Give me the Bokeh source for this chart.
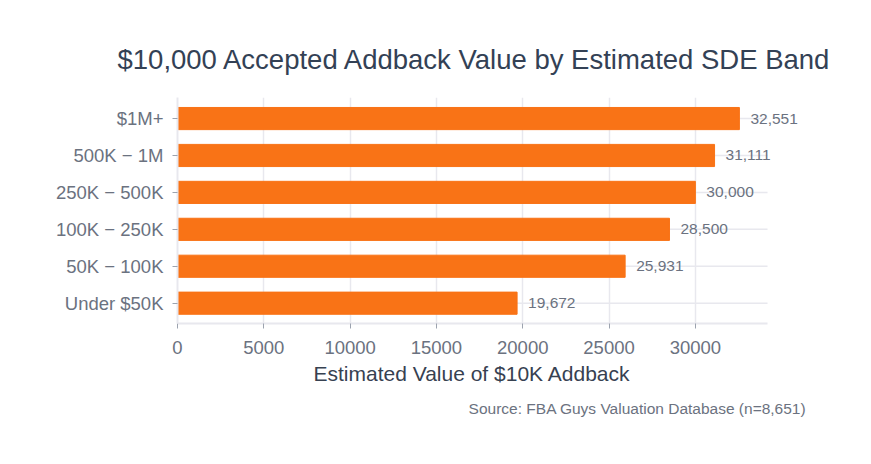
from bokeh.plotting import figure
from bokeh.models import ColumnDataSource, Range1d, FixedTicker, Title, Label
from bokeh.embed import file_html
from bokeh.resources import INLINE

# SDE bands, bottom to top
bands = ["Under $50K", "50K \u2212 100K", "100K \u2212 250K", "250K \u2212 500K", "500K \u2212 1M", "$1M+"]
values = [19672, 25931, 28500, 30000, 31111, 32551]
x_ticks = [0, 5000, 10000, 15000, 20000, 25000, 30000]

FONT = "Liberation Sans"
ORANGE = "#f97316"
GRID = "#e8e8ee"
TICK_TXT = "#6b7280"

x_max = max(values) * 1.05
# frame is widened past the axis end so the value labels are not clipped
x_end = x_max * 643 / 590

source = ColumnDataSource(dict(y=list(range(len(bands))), value=values))
grid_src = ColumnDataSource(dict(y=list(range(len(bands))),
                                 x0=[0] * len(bands), x1=[x_max] * len(bands)))

p = figure(
    width=855, height=448,
    x_range=Range1d(0, x_end),
    y_range=Range1d(-0.55, len(bands) - 1 + 0.57),
    output_backend="svg", toolbar_location=None,
    min_border_left=177, min_border_right=35,
    min_border_top=97, min_border_bottom=125,
)
p.outline_line_color = None

p.title.text = "$10,000 Accepted Addback Value by Estimated SDE Band"
p.title.align = "left"
p.title.offset = -60
p.title.text_font = FONT
p.title.text_font_size = "27.5px"
p.title.text_font_style = "normal"
p.title.text_color = "#334155"
p.title.standoff = 45

p.segment(x0="x0", y0="y", x1="x1", y1="y", source=grid_src,
          line_color=GRID, line_width=1.5, level="underlay")
p.hbar(y="y", right="value", height=0.6, color=ORANGE, source=source)

for i, v in enumerate(values):
    p.add_layout(Label(x=v, y=i, text=f"{v:,}", x_offset=11, text_baseline="middle",
                       text_font=FONT, text_font_size="15.5px", text_color=TICK_TXT))

p.yaxis.ticker = FixedTicker(ticks=list(range(len(bands))))
p.yaxis.major_label_overrides = {i: b for i, b in enumerate(bands)}
p.xaxis.ticker = FixedTicker(ticks=x_ticks)
p.xaxis.bounds = (0, x_max)

for ax in (p.xaxis, p.yaxis):
    ax.axis_line_color = GRID
    ax.axis_line_width = 2
    ax.major_tick_line_color = "#9ca3af"
    ax.major_tick_out = 5
    ax.major_tick_in = 0
    ax.minor_tick_line_color = None
    ax.major_label_text_font = FONT
    ax.major_label_text_font_size = "18.5px"
    ax.major_label_text_color = TICK_TXT
p.yaxis.major_label_standoff = 9
p.xaxis.major_label_standoff = 12

p.xgrid.ticker = FixedTicker(ticks=x_ticks)
p.xgrid.grid_line_color = GRID
p.xgrid.grid_line_width = 1.5
p.ygrid.grid_line_color = None

# x axis title, centred under the axis span rather than the widened frame
x_title = Title(text="Estimated Value of $10K Addback", align="left",
                text_font=FONT, text_font_size="21px", text_font_style="normal",
                text_color="#374151", offset=136, standoff=7)
p.add_layout(x_title, "below")

src_note = Title(text="Source: FBA Guys Valuation Database (n=8,651)", align="right",
                 text_font=FONT, text_font_size="15.5px", text_font_style="normal",
                 text_color=TICK_TXT, offset=14, standoff=19)
p.add_layout(src_note, "below")

open("out.html", "w").write(file_html(p, INLINE))
